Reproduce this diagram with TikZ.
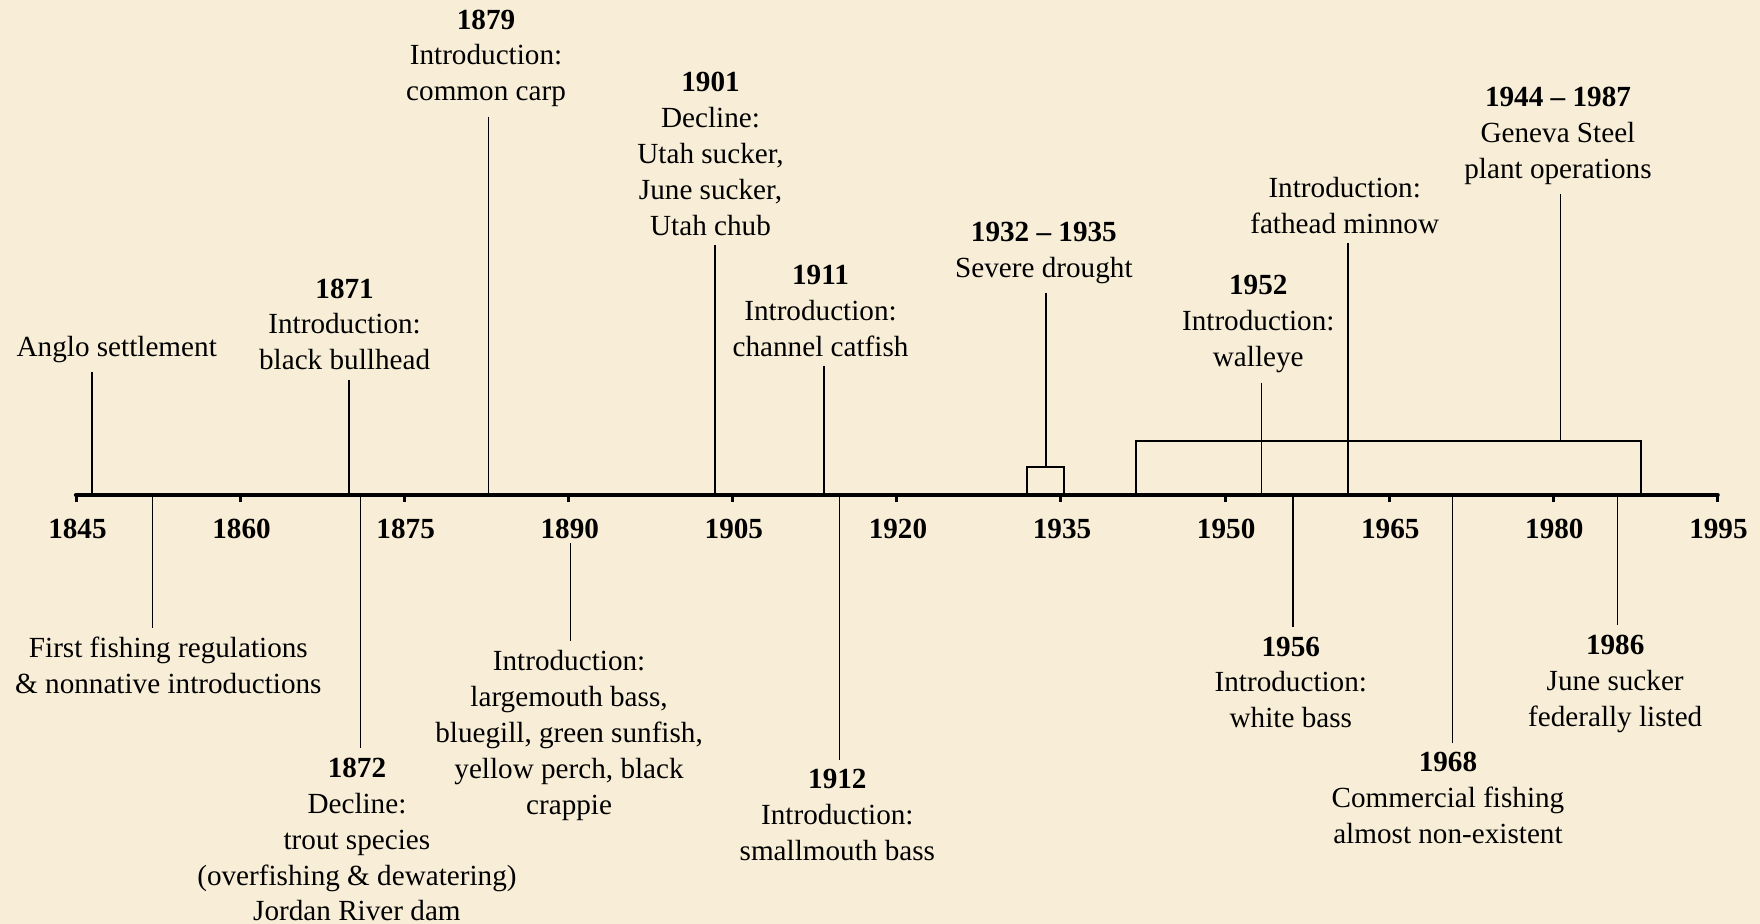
\documentclass[tikz,border=0pt]{standalone}
\usepackage{fontspec}
\setmainfont{Liberation Serif}
\definecolor{parch}{HTML}{F8EED7}
\begin{document}
\begin{tikzpicture}[x=0.5pt,y=-0.5pt,
  lbl/.style={align=center,inner sep=4pt,font={\fontsize{13pt}{16pt}\selectfont}},
  yr/.style={font={\fontsize{13pt}{16pt}\selectfont\bfseries},inner sep=1pt},
  conn/.style={draw=black,line width=0.6pt},
  axisline/.style={line width=2.2pt,line cap=round},
  tickmark/.style={line width=1.3pt}]
\fill[parch] (0,0) rectangle (1568,823);
\useasboundingbox (0,0) rectangle (1568,823);
% axis
\coordinate (axL) at (68,441);
\coordinate (axR) at (1530,441);
\draw[axisline] (axL) -- (axR);
\foreach \y [count=\i from 0] in {1845,1860,1875,1890,1905,1920,1935,1950,1965,1980,1995}{
  \coordinate (t\y) at ({68+146.2*\i},441);
  \draw[tickmark] (t\y) -- ++(0,6);
  \node[yr] (y\y) at ({69+146.2*\i},471) {\y};
}
% boxes
\coordinate (b1a) at (915,416); \coordinate (b1b) at (948,441);
\draw[conn] (b1a) rectangle (b1b);
\coordinate (b2a) at (1012,393); \coordinate (b2b) at (1462,441);
\draw[conn] (b2a) rectangle (b2b);
% upper labels
\node[lbl] (anglo) at (104,311) {Anglo settlement};
\node[lbl] (e1871) at (307,289) {\textbf{1871}\\Introduction:\\black bullhead};
\node[lbl] (e1879) at (433,52) {\textbf{1879}\\Introduction:\\common carp};
\node[lbl] (e1901) at (633,137) {\textbf{1901}\\Decline:\\Utah sucker,\\June sucker,\\Utah chub};
\node[lbl] (e1911) at (731,277) {\textbf{1911}\\Introduction:\\channel catfish};
\node[lbl] (e1932) at (930,225) {\textbf{1932 – 1935}\\Severe drought};
\node[lbl] (e1952) at (1121,289) {\textbf{1952}\\Introduction:\\walleye};
\node[lbl] (efat) at (1198,183) {Introduction:\\fathead minnow};
\node[lbl] (e1944) at (1388,121) {\textbf{1944 – 1987}\\Geneva Steel\\plant operations};
% lower labels
\node[lbl] (efirst) at (150,593) {First fishing regulations\\\& nonnative introductions};
\node[lbl] (e1872) at (318,748) {\textbf{1872}\\Decline:\\trout species\\(overfishing \& dewatering)\\Jordan River dam};
\node[lbl] (e1890) at (507,655) {Introduction:\\largemouth bass,\\bluegill, green sunfish,\\yellow perch, black\\crappie};
\node[lbl] (e1912) at (746,726) {\textbf{1912}\\Introduction:\\smallmouth bass};
\node[lbl] (e1956) at (1150,608) {\textbf{1956}\\Introduction:\\white bass};
\node[lbl] (e1968) at (1290,711) {\textbf{1968}\\Commercial fishing\\almost non-existent};
\node[lbl] (e1986) at (1439,609) {\textbf{1986}\\June sucker\\federally listed};
% anchor points on axis / boxes
\coordinate (pA) at (82,441);
\coordinate (p1871) at (311,441);
\coordinate (p1879) at (435,441);
\coordinate (p1901) at (637,441);
\coordinate (p1911) at (734,441);
\coordinate (p1932) at (932,416);
\coordinate (p1952) at (1124,441);
\coordinate (pfat) at (1201,441);
\coordinate (p1944) at (1390,393);
\coordinate (pfirst) at (136,441);
\coordinate (p1872) at (321,441);
\coordinate (p1890) at (508,484);
\coordinate (p1912) at (748,441);
\coordinate (p1956) at (1152,441);
\coordinate (p1968) at (1294,441);
\coordinate (p1986) at (1441,441);
% connectors
\draw[conn] (pA |- anglo.south) -- (pA);
\draw[conn] (p1871 |- e1871.south) -- (p1871);
\draw[conn] (p1879 |- e1879.south) -- (p1879);
\draw[conn] (p1901 |- e1901.south) -- (p1901);
\draw[conn] (p1911 |- e1911.south) -- (p1911);
\draw[conn] (p1932 |- e1932.south) -- (p1932);
\draw[conn] (p1952 |- e1952.south) -- (p1952);
\draw[conn] (pfat |- efat.south) -- (pfat);
\draw[conn] (p1944 |- e1944.south) -- (p1944);
\draw[conn] (pfirst) -- (pfirst |- efirst.north);
\draw[conn] (p1872) -- (p1872 |- e1872.north);
\draw[conn] (p1890) -- (p1890 |- e1890.north);
\draw[conn] (p1912) -- (p1912 |- e1912.north);
\draw[conn] (p1956) -- (p1956 |- e1956.north);
\draw[conn] (p1968) -- (p1968 |- e1968.north);
\draw[conn] (p1986) -- (p1986 |- e1986.north);
\end{tikzpicture}
\end{document}
